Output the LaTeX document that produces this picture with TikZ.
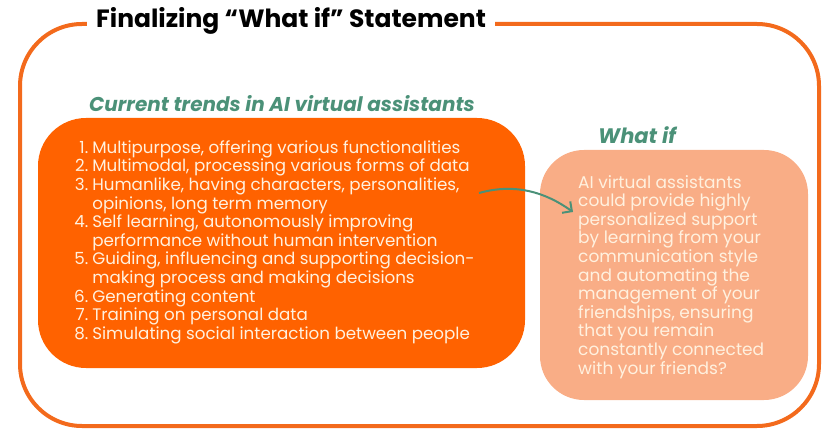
\documentclass[tikz,border=0pt]{standalone}
\usepackage{fontspec}
\setmainfont{Poppins}
\usetikzlibrary{arrows.meta}
\definecolor{frameorange}{HTML}{F36A1C}
\definecolor{boxorange}{HTML}{FF6200}
\definecolor{boxpeach}{HTML}{F9AD86}
\definecolor{tealgreen}{HTML}{4B9178}
\definecolor{cream}{HTML}{FFF1DF}
\tikzset{
  frame/.style={draw=frameorange, line width=4pt, rounded corners=62pt},
  trendbox/.style={fill=boxorange, rounded corners=48pt},
  whatbox/.style={fill=boxpeach, rounded corners=44pt},
  heading/.style={text=tealgreen, font=\fontsize{20}{22}\selectfont\bfseries\itshape, inner sep=0pt},
  boxtext/.style={text=cream, align=left, inner sep=0pt, font=\fontsize{16.7}{18.6}\selectfont},
  linkarrow/.style={draw=tealgreen, line width=2pt, -{Straight Barb[length=7pt,width=14pt]}},
}
\begin{document}
\begin{tikzpicture}[x=1pt,y=-1pt]
\useasboundingbox (0,0) rectangle (822,430);
% outer frame with the title set into its top edge
\draw[frame] (20,24) rectangle (819,426);
\node[fill=white, inner xsep=9pt, inner ysep=6pt, font=\fontsize{25}{27}\selectfont\bfseries, anchor=west] (title) at (87,21) {Finalizing “What if” Statement};
% left column: current trends
\node[heading, anchor=west] (trendhead) at (89,104) {Current trends in AI virtual assistants};
\path[trendbox] (38,118) rectangle (525,368);
\node[boxtext, anchor=north west] (trends) at (74,140) {%
\begin{tabular}{@{}r@{\hspace{4pt}}l@{}}
1. & Multipurpose, offering various functionalities\\
2. & Multimodal, processing various forms of data\\
3. & Humanlike, having characters, personalities,\\
   & opinions, long term memory\\
4. & Self learning, autonomously improving\\
   & performance without human intervention\\
5. & Guiding, influencing and supporting decision-\\
   & making process and making decisions\\
6. & Generating content\\
7. & Training on personal data\\
8. & Simulating social interaction between people
\end{tabular}};
% right column: the what-if statement
\node[heading, anchor=west, font=\fontsize{21}{23}\selectfont\bfseries\itshape] (whathead) at (598,135) {What if};
\path[whatbox] (540,150) rectangle (808,400);
\node[boxtext, anchor=north west, font=\fontsize{17}{18.6}\selectfont] (whatif) at (578,175) {%
AI virtual assistants\\
could provide highly\\
personalized support\\
by learning from your\\
communication style\\
and automating the\\
management of your\\
friendships, ensuring\\
that you remain\\
constantly connected\\
with your friends?};
% link from the trend list to the statement
\coordinate (linkstart) at (479,193);
\coordinate (linkend) at (573,212);
\draw[linkarrow] (linkstart) .. controls (515,183) and (545,192) .. (linkend);
\end{tikzpicture}
\end{document}
